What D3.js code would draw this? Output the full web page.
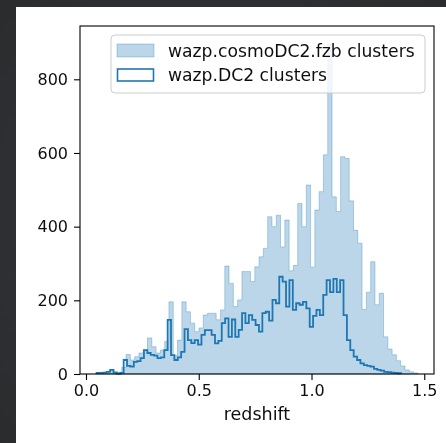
<!DOCTYPE html>
<html>
<head>
<meta charset="utf-8">
<script src="https://cdn.jsdelivr.net/npm/d3@7"></script>
<style>
  html, body { margin: 0; padding: 0; background: #2e2f31; overflow: hidden; }
  svg { display: block; }
  text { font-family: "DejaVu Sans", sans-serif; fill: #111; }
</style>
</head>
<body>
<svg id="chart" width="446" height="443"></svg>
<script>
// Redshift distribution of wazp cluster catalogues.

// wazp.cosmoDC2.fzb clusters: equal-width bins starting at fzbStart
const fzbStart = 0.0444;
const fzbBinWidth = 0.01903;
const fzbCounts = [
  2, 3, 5, 9, 6, 5, 18, 53, 38, 47,
  57, 65, 98, 74, 57, 65, 88, 196, 50, 92,
  196, 169, 138, 115, 125, 160, 165, 165, 147, 174,
  293, 246, 183, 201, 278, 278, 251, 291, 318, 341,
  427, 400, 431, 345, 418, 280, 295, 463, 400, 513,
  290, 445, 495, 595, 895, 481, 441, 590, 585, 470,
  390, 355, 175, 222, 305, 188, 219, 101, 68, 52,
  36, 22, 11, 6, 3
];

// wazp.DC2 clusters: equal-width bins starting at dc2Start
const dc2Start = 0.047;
const dc2BinWidth = 0.015;
const dc2Counts = [
  3, 3, 4, 6, 11, 4, 1, 3, 38, 22,
  20, 33, 35, 43, 65, 57, 52, 50, 43, 45,
  65, 147, 51, 38, 45, 60, 122, 92, 84, 92,
  80, 106, 119, 119, 106, 83, 90, 138, 151, 101,
  148, 101, 120, 165, 138, 160, 147, 133, 115, 165,
  169, 145, 201, 192, 264, 251, 183, 255, 174, 192,
  188, 196, 178, 128, 158, 174, 160, 215, 255, 222,
  258, 222, 255, 160, 92, 65, 47, 38, 29, 24,
  22, 20, 14, 11, 9, 6, 5, 4, 3, 2
];

const xTicks = [0.0, 0.5, 1.0, 1.5];
const yTicks = [0, 200, 400, 600, 800];
const seriesLabels = ["wazp.cosmoDC2.fzb clusters", "wazp.DC2 clusters"];
const xLabel = "redshift";

const blue = "#1f77b4";

const svg = d3.select("#chart");

// backdrop and figure panel
const defs = svg.append("defs");
const bg = defs.append("radialGradient").attr("id", "bgGrad")
  .attr("cx", "50%").attr("cy", "50%").attr("r", "75%");
bg.append("stop").attr("offset", "0%").attr("stop-color", "#36373b");
bg.append("stop").attr("offset", "100%").attr("stop-color", "#2a2b2d");
defs.append("filter").attr("id", "soft")
  .append("feGaussianBlur").attr("stdDeviation", 0.35);

svg.append("rect").attr("width", 446).attr("height", 443).attr("fill", "url(#bgGrad)");
svg.append("rect").attr("x", 16).attr("y", 7).attr("width", 430).attr("height", 436).attr("fill", "#ffffff");

const root = svg.append("g").attr("filter", "url(#soft)");

// plot area
const plot = { left: 80, right: 434, top: 26, bottom: 374 };

const x = d3.scaleLinear().domain([-0.0266, 1.5432]).range([plot.left, plot.right]);
const y = d3.scaleLinear().domain([0, 944.7]).range([plot.bottom, plot.top]);

// outline points of a histogram: up from the baseline, across each bin, back down
function stepPoints(start, width, counts) {
  const pts = [[start, 0]];
  counts.forEach((c, i) => pts.push([start + i * width, c]));
  pts.push([start + counts.length * width, 0]);
  return pts;
}

const stepLine = d3.line()
  .x(d => x(d[0]))
  .y(d => y(d[1]))
  .curve(d3.curveStepAfter);

// filled histogram
root.append("path")
  .attr("d", stepLine(stepPoints(fzbStart, fzbBinWidth, fzbCounts)) + "Z")
  .attr("fill", blue).attr("fill-opacity", 0.3)
  .attr("stroke", blue).attr("stroke-opacity", 0.3).attr("stroke-width", 1);

// outline histogram
root.append("path")
  .attr("d", stepLine(stepPoints(dc2Start, dc2BinWidth, dc2Counts)))
  .attr("fill", "none")
  .attr("stroke", blue).attr("stroke-width", 1.8)
  .attr("stroke-linejoin", "miter");

// axes
const xAxis = d3.axisBottom(x).tickValues(xTicks).tickFormat(d3.format(".1f"))
  .tickSizeInner(6).tickSizeOuter(0).tickPadding(5);
const yAxis = d3.axisLeft(y).tickValues(yTicks).tickFormat(d3.format("d"))
  .tickSizeInner(6).tickSizeOuter(0).tickPadding(6);

const gx = root.append("g").attr("transform", `translate(0,${plot.bottom})`).call(xAxis);
const gy = root.append("g").attr("transform", `translate(${plot.left},0)`).call(yAxis);
[gx, gy].forEach(a => {
  a.select(".domain").remove();
  a.selectAll(".tick line").attr("stroke", "#000").attr("stroke-width", 1.1);
  a.selectAll(".tick text").attr("font-size", 16).attr("fill", "#111")
    .style("font-family", "'DejaVu Sans', sans-serif");
});

// frame
root.append("rect")
  .attr("x", plot.left).attr("y", plot.top)
  .attr("width", plot.right - plot.left).attr("height", plot.bottom - plot.top)
  .attr("fill", "none").attr("stroke", "#000").attr("stroke-width", 1.1);

// axis label
root.append("text")
  .attr("x", (plot.left + plot.right) / 2).attr("y", 420)
  .attr("text-anchor", "middle").attr("font-size", 17.5)
  .text(xLabel);

// legend
const lg = root.append("g");
lg.append("rect")
  .attr("x", 111).attr("y", 35).attr("width", 314).attr("height", 58).attr("rx", 4)
  .attr("fill", "#fff").attr("fill-opacity", 0.8)
  .attr("stroke", "#cccccc").attr("stroke-width", 1);

const rowY = [50.5, 75];
lg.append("rect").attr("x", 117).attr("y", rowY[0] - 6.5).attr("width", 37).attr("height", 13)
  .attr("fill", blue).attr("fill-opacity", 0.3)
  .attr("stroke", blue).attr("stroke-opacity", 0.3);
lg.append("rect").attr("x", 117.5).attr("y", rowY[1] - 6).attr("width", 36).attr("height", 12)
  .attr("fill", "none").attr("stroke", blue).attr("stroke-width", 1.6);

seriesLabels.forEach((s, i) => {
  lg.append("text").attr("x", 168).attr("y", rowY[i] + 6)
    .attr("font-size", 17.2).text(s);
});
</script>
</body>
</html>
